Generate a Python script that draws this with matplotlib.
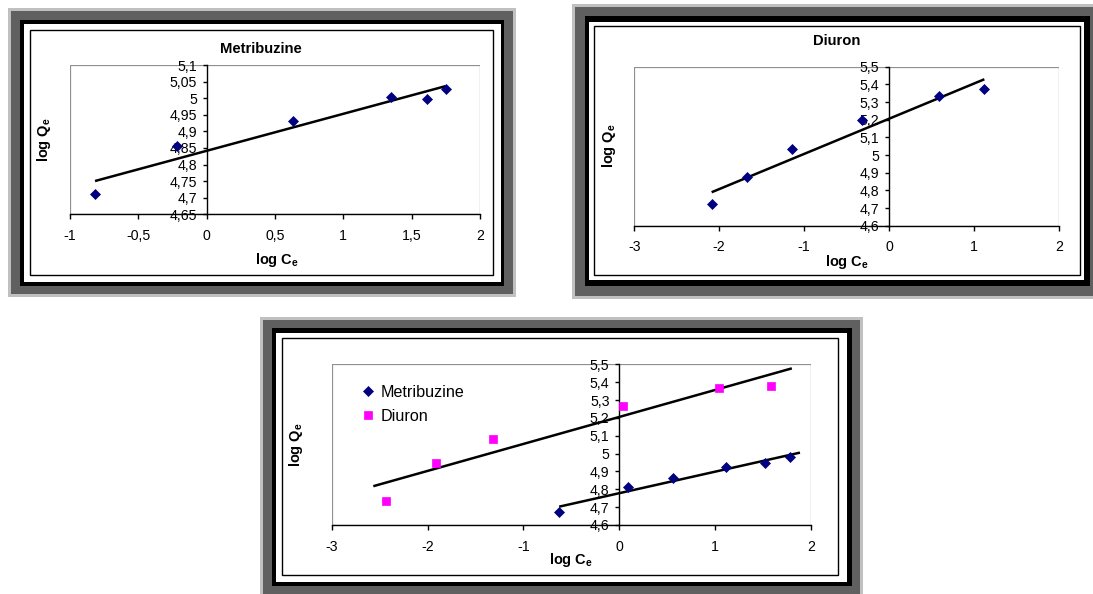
import numpy as np
import matplotlib
matplotlib.use('Agg')
import matplotlib.pyplot as plt
from matplotlib.patches import Rectangle
from matplotlib.ticker import FixedLocator, FuncFormatter

plt.rcParams['font.family'] = ['Liberation Sans', 'DejaVu Sans']
plt.rcParams['mathtext.fontset'] = 'custom'
plt.rcParams['mathtext.rm'] = 'Liberation Sans:bold'

# adsorption isotherms (Freundlich, log-log)
metri_logc = [-0.817, -0.22, 0.634, 1.346, 1.61, 1.749]
metri_logq = [4.710, 4.857, 4.932, 5.005, 4.997, 5.027]
metri_fit_range = [-0.817, 1.749]

diuron_logc = [-2.089, -1.668, -1.142, -0.321, 0.590, 1.124]
diuron_logq = [4.723, 4.874, 5.032, 5.198, 5.334, 5.372]
diuron_fit_range = [-2.089, 1.124]

# second batch, both pesticides on one chart
metri2_logc = [-0.627, 0.091, 0.558, 1.113, 1.525, 1.78]
metri2_logq = [4.673, 4.815, 4.865, 4.923, 4.949, 4.979]
metri2_fit_range = [-0.627, 1.885]

diuron2_logc = [-2.433, -1.914, -1.316, 0.039, 1.04, 1.58]
diuron2_logq = [4.733, 4.947, 5.083, 5.267, 5.366, 5.381]
diuron2_fit_range = [-2.566, 1.80]

series_names = ['Metribuzine', 'Diuron']

W, H = 1093, 594
NAVY = '#000080'
MAGENTA = '#ff00ff'

fig = plt.figure(figsize=(W / 100, H / 100), dpi=100)


def frac(x0, y0, x1, y1):
    return [x0 / W, 1 - y1 / H, (x1 - x0) / W, (y1 - y0) / H]


def frame(light, dark, black, white, border):
    # double picture border: light grey rim, dark grey band, black band, chart area line
    specs = [(light, '#c0c0c0', True), (dark, '#606060', True),
             (black, 'black', True), (white, 'white', True),
             (border, 'black', False)]
    for z, (box, col, filled) in enumerate(specs):
        x, y, w, h = frac(*box)
        if filled:
            r = Rectangle((x, y), w, h, transform=fig.transFigure,
                          facecolor=col, edgecolor='none', zorder=-10 + z)
        else:
            r = Rectangle((x, y), w, h, transform=fig.transFigure,
                          facecolor='white', edgecolor=col, lw=1.0, zorder=-10 + z)
        fig.add_artist(r)


def comma(v, pos=None):
    return '{:g}'.format(round(v, 3)).replace('.', ',')


def make_axes(box, xlim, xstep, ylim, ystep):
    ax = fig.add_axes(frac(*box))
    ax.set_facecolor('none')
    ax.set_xlim(*xlim)
    ax.set_ylim(*ylim)
    xt = np.round(np.arange(xlim[0], xlim[1] + xstep / 2, xstep), 3)
    yt = np.round(np.arange(ylim[0], ylim[1] + ystep / 2, ystep), 3)
    ax.xaxis.set_major_locator(FixedLocator(xt))
    ax.yaxis.set_major_locator(FixedLocator(yt))
    ax.xaxis.set_major_formatter(FuncFormatter(comma))
    ax.yaxis.set_major_formatter(FuncFormatter(comma))
    for s in ['top', 'right']:
        ax.spines[s].set_visible(False)
    ax.spines['left'].set_position(('data', 0))
    ax.spines['left'].set_linewidth(1.0)
    ax.spines['bottom'].set_linewidth(1.0)
    ax.spines['left'].set_zorder(3)
    ax.spines['bottom'].set_zorder(3)
    ax.add_patch(Rectangle((0, 0), 1, 1, transform=ax.transAxes, fill=False,
                           edgecolor='#909090', lw=0.9, zorder=1))
    ax.tick_params(axis='x', direction='out', length=3.5, width=1.0, pad=7,
                   labelsize=10.2)
    ax.tick_params(axis='y', direction='out', length=3, width=1.0, pad=4,
                   labelsize=10.2)
    return ax


def scatter_fit(ax, xs, ys, fit_range, marker, color, ms, label=None):
    coef = np.polyfit(xs, ys, 1)
    fx = np.array(fit_range)
    ax.plot(fx, np.polyval(coef, fx), color='black', lw=1.8, zorder=4,
            solid_capstyle='butt')
    ax.plot(xs, ys, linestyle='none', marker=marker, color=color, ms=ms,
            mew=0.5, mec=color, zorder=5, label=label, clip_on=False)


def labels(ylab_xy, xlab_xy):
    fig.text(ylab_xy[0] / W, 1 - ylab_xy[1] / H, r'log Q$_\mathrm{e}$',
             rotation=90, ha='center', va='center', fontsize=10.5,
             fontweight='bold')
    fig.text(xlab_xy[0] / W, 1 - xlab_xy[1] / H, r'log C$_\mathrm{e}$',
             ha='center', va='center', fontsize=10.5, fontweight='bold')


# Metribuzine alone
frame((8, 8, 516, 297), (11, 11, 513, 294), (20, 20, 504, 286),
      (24, 24, 501, 282), (29.5, 29.5, 492.7, 275))
ax1 = make_axes((70, 65, 480, 214.3), (-1, 2), 0.5, (4.65, 5.1), 0.05)
scatter_fit(ax1, metri_logc, metri_logq, metri_fit_range, 'D', NAVY, 4.6)
fig.text(261 / W, 1 - 49 / H, 'Metribuzine', ha='center', va='center',
         fontsize=10.6, fontweight='bold')
labels((44, 140), (277, 260))

# Diuron alone
frame((572, 4, 1096, 299), (575, 7, 1093, 296), (585, 16, 1090, 286),
      (589, 21.5, 1084, 280), (593.7, 26, 1080, 275))
ax2 = make_axes((634.3, 66.7, 1058.7, 225.7), (-3, 2), 1, (4.6, 5.5), 0.1)
scatter_fit(ax2, diuron_logc, diuron_logq, diuron_fit_range, 'D', NAVY, 4.6)
fig.text(836.7 / W, 1 - 40.7 / H, 'Diuron', ha='center', va='center',
         fontsize=10.6, fontweight='bold')
labels((609, 146), (846.7, 261.7))

# both together
frame((260, 317, 863, 600), (263, 320, 860, 597), (272, 328.3, 851.7, 586),
      (276, 333.3, 846.7, 581.7), (282.3, 338.3, 837.7, 575))
ax3 = make_axes((331.7, 364.3, 811, 525), (-3, 2), 1, (4.6, 5.5), 0.1)
scatter_fit(ax3, metri2_logc, metri2_logq, metri2_fit_range, 'D', NAVY, 4.8,
            label=series_names[0])
scatter_fit(ax3, diuron2_logc, diuron2_logq, diuron2_fit_range, 's', MAGENTA,
            6.2, label=series_names[1])
ax3.legend(loc='upper left', bbox_to_anchor=(362 / W, 1 - 385 / H),
           bbox_transform=fig.transFigure, frameon=False, fontsize=11.6,
           handlelength=0.8, handletextpad=0.35, labelspacing=0.55,
           borderpad=0, borderaxespad=0)
labels((296, 445), (571, 560))

fig.savefig('out.png', dpi=100)
